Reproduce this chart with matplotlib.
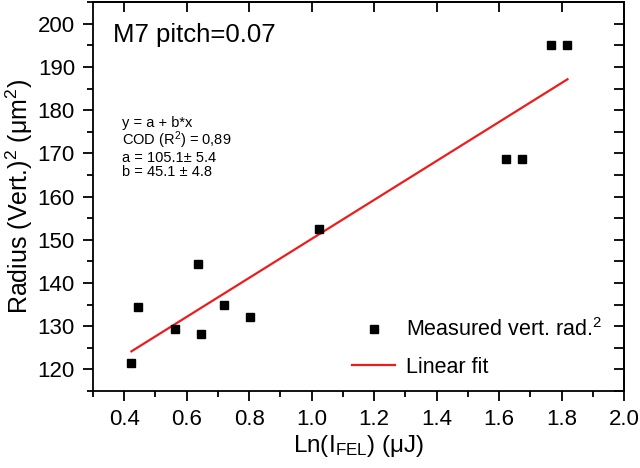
import matplotlib
matplotlib.use("Agg")
import matplotlib.pyplot as plt
import numpy as np
from matplotlib.ticker import MultipleLocator

plt.rcParams['font.family'] = ['Liberation Sans', 'DejaVu Sans']
plt.rcParams['mathtext.fontset'] = 'custom'
plt.rcParams['mathtext.rm'] = 'Liberation Sans'
plt.rcParams['mathtext.it'] = 'Liberation Sans:italic'

# Data
x_meas = [0.423, 0.443, 0.561, 0.636, 0.647, 0.721, 0.803, 1.022, 1.622, 1.674, 1.767, 1.819]
y_meas = [121.5, 134.5, 129.3, 144.5, 128.1, 134.9, 132.1, 152.4, 168.8, 168.8, 195.1, 195.1]
fit_a = 105.1
fit_b = 45.1
fit_lines = ['y = a + b*x', 'COD (R$^2$) = 0,89', 'a = 105.1± 5.4', 'b = 45.1 ± 4.8']

W, H = 640, 468
fig = plt.figure(figsize=(6.4, 4.68), dpi=100)
ax = fig.add_axes([0.1453, 0.1645, 0.8297, 0.831])

ax.plot(x_meas, y_meas, 's', color='black', markersize=6, label='Measured vert. rad.$^2$', zorder=3)
xf = np.array([min(x_meas), max(x_meas)])
ax.plot(xf, fit_a + fit_b * xf, '-', color='#ee1c1c', lw=1.6, label='Linear fit')

ax.set_xlim(0.3, 2.0)
ax.set_ylim(115, 205)
ax.xaxis.set_minor_locator(MultipleLocator(0.1))
ax.yaxis.set_minor_locator(MultipleLocator(5))
ax.set_xticks([0.4, 0.6, 0.8, 1.0, 1.2, 1.4, 1.6, 1.8, 2.0])
ax.set_yticks([120, 130, 140, 150, 160, 170, 180, 190, 200])
ax.xaxis.set_major_formatter(matplotlib.ticker.FormatStrFormatter('%.1f'))

for s in ax.spines.values():
    s.set_linewidth(1.3)
ax.tick_params(which='major', direction='out', length=7, width=1.3, labelsize=16, pad=6)
ax.tick_params(which='minor', direction='out', length=4, width=1.3)
sec_x = ax.secondary_xaxis('top')
sec_x.set_xticks([0.4, 0.6, 0.8, 1.0, 1.2, 1.4, 1.6, 1.8, 2.0])
sec_x.tick_params(direction='in', length=7, width=1.3, labeltop=False)
sec_x.xaxis.set_minor_locator(matplotlib.ticker.NullLocator())
sec_y = ax.secondary_yaxis('right')
sec_y.set_yticks([120, 130, 140, 150, 160, 170, 180, 190, 200])
sec_y.yaxis.set_minor_locator(MultipleLocator(5))
sec_y.tick_params(which='both', direction='in', length=7, width=1.3, labelright=False)
for s in list(sec_x.spines.values()) + list(sec_y.spines.values()):
    s.set_linewidth(1.3)

ax.set_xlabel('Ln(I$_{\\rm FEL}$) (μJ)', fontsize=17.5, labelpad=2)
ax.set_ylabel('Radius (Vert.)$^2$ (μm$^2$)', fontsize=18, labelpad=2)

ax.text(0.038, 0.915, 'M7 pitch=0.07', transform=ax.transAxes, fontsize=18.5, va='center', ha='left')
fig.text(122 / W, 1 - 116 / H, '\n'.join(fit_lines), fontsize=10.5, va='top', ha='left',
         linespacing=0.98)

leg = ax.legend(loc='lower right', bbox_to_anchor=(0.975, 0.012), frameon=False, fontsize=15.5,
                handlelength=2.0, handletextpad=0.5, labelspacing=0.72, borderaxespad=0)

fig.savefig('out.png', dpi=100)
